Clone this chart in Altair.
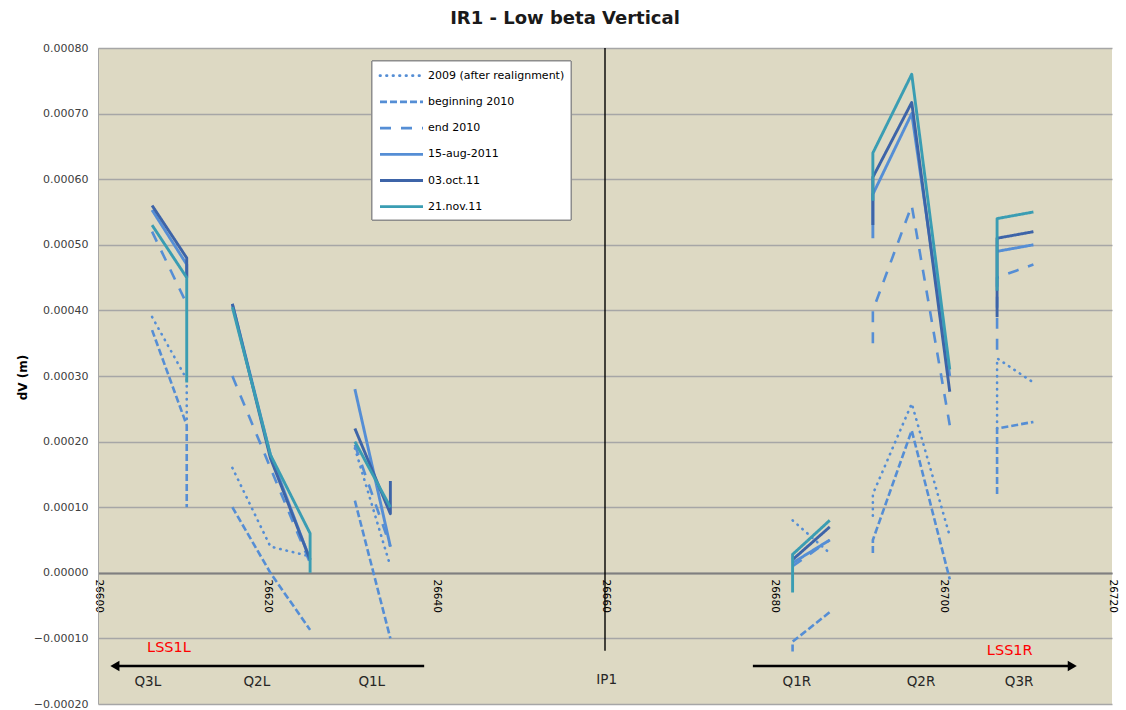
import altair as alt
import pandas as pd

# --- series definitions -------------------------------------------------
SERIES = ["2009 (after realignment)", "beginning 2010", "end 2010",
          "15-aug-2011", "03.oct.11", "21.nov.11"]
COLORS = ["#558ED5", "#558ED5", "#558ED5", "#558ED5", "#3D64A8", "#3A9DB3"]
DASHES = [[0.5, 6], [7, 3], [11, 10], [1, 0], [1, 0], [1, 0]]

# longitudinal positions (m) of the measured points on each magnet
Q3L = [26606.4, 26610.5]
Q2L = [26615.9, 26620.4, 26625.1]
Q1L = [26630.4, 26634.6]
Q1R = [26682.2, 26686.6]
Q2R = [26691.7, 26696.3, 26700.8]
Q3R = [26706.4, 26710.7]
POS = {"Q3L": Q3L, "Q2L": Q2L, "Q1L": Q1L, "Q1R": Q1R, "Q2R": Q2R, "Q3R": Q3R}

# vertical displacement dV (m): (point index on the magnet, value)
DV_2009 = {
    "Q3L": [(0, 0.000390), (1, 0.000295), (1, 0.000230)],
    "Q2L": [(0, 0.000160), (1, 0.000040), (2, 0.000025)],
    "Q1L": [(0, 0.000190), (1, 0.000010)],
    "Q1R": [(0, 0.000080), (1, 0.000030)],
    "Q2R": [(0, 0.000087), (0, 0.000120), (1, 0.000258), (2, 0.000056)],
    "Q3R": [(0, 0.000220), (0, 0.000327), (1, 0.000290)],
}
DV_BEGIN_2010 = {
    "Q3L": [(0, 0.000370), (1, 0.000225), (1, 0.000100)],
    "Q2L": [(0, 0.000100), (1, 0.000000), (2, -0.000087)],
    "Q1L": [(0, 0.000110), (1, -0.000100)],
    "Q1R": [(0, -0.000120), (0, -0.000105), (1, -0.000060)],
    "Q2R": [(0, 0.000030), (0, 0.000050), (1, 0.000217), (2, -0.000010)],
    "Q3R": [(0, 0.000120), (0, 0.000220), (1, 0.000230)],
}
DV_END_2010 = {
    "Q3L": [(0, 0.000520), (1, 0.000410)],
    "Q2L": [(0, 0.000300), (1, 0.000160), (2, 0.000015)],
    "Q1L": [(0, 0.000195), (1, 0.000040)],
    "Q1R": [(0, 0.000010), (1, 0.000050)],
    "Q2R": [(0, 0.000350), (0, 0.000400), (1, 0.000560), (2, 0.000225)],
    "Q3R": [(0, 0.000340), (0, 0.000450), (1, 0.000470)],
}
DV_AUG_2011 = {
    "Q3L": [(0, 0.000553), (1, 0.000470), (1, 0.000450)],
    "Q2L": [(0, 0.000410), (1, 0.000180), (2, 0.000020)],
    "Q1L": [(0, 0.000280), (1, 0.000040)],
    "Q1R": [(0, 0.000015), (1, 0.000050)],
    "Q2R": [(0, 0.000510), (0, 0.000577), (1, 0.000700), (2, 0.000300)],
    "Q3R": [(0, 0.000490), (1, 0.000500)],
}
DV_OCT_2011 = {
    "Q3L": [(0, 0.000560), (1, 0.000480), (1, 0.000450)],
    "Q2L": [(0, 0.000410), (1, 0.000175), (2, 0.000020)],
    "Q1L": [(0, 0.000220), (1, 0.000090), (1, 0.000140)],
    "Q1R": [(0, 0.000020), (1, 0.000070)],
    "Q2R": [(0, 0.000530), (0, 0.000603), (1, 0.000717), (2, 0.000276)],
    "Q3R": [(0, 0.000390), (0, 0.000510), (1, 0.000520)],
}
DV_NOV_2011 = {
    "Q3L": [(0, 0.000530), (1, 0.000450), (1, 0.000290)],
    "Q2L": [(0, 0.000405), (1, 0.000180), (2, 0.000060), (2, 0.000000)],
    "Q1L": [(0, 0.000200), (1, 0.000100)],
    "Q1R": [(0, -0.000030), (0, 0.000028), (1, 0.000080)],
    "Q2R": [(0, 0.000567), (0, 0.000640), (1, 0.000760), (2, 0.000310)],
    "Q3R": [(0, 0.000430), (0, 0.000540), (1, 0.000550)],
}
DATA = [DV_2009, DV_BEGIN_2010, DV_END_2010, DV_AUG_2011, DV_OCT_2011, DV_NOV_2011]

# annotation texts below the axis
MAGNETS = ["Q3L", "Q2L", "Q1L", "IP1", "Q1R", "Q2R", "Q3R"]
MAGNET_X = [26605.9, 26618.8, 26632.4, 26660.2, 26682.7, 26697.4, 26709.0]
MAGNET_Y = [-0.000166, -0.000166, -0.000166, -0.000163, -0.000166, -0.000166, -0.000166]
SECTORS = ["LSS1L", "LSS1R"]
SECTOR_X = [26608.4, 26707.9]
SECTOR_Y = [-0.000114, -0.000119]
ARROW_FROM = [26638.6, 26677.5]
ARROW_TO = [26602.0, 26715.3]
ARROW_Y = [-0.000142, -0.000142]
IP_X = 26660.0
IP_Y = [0.0008, -0.000119]

XTICKS = [26600, 26620, 26640, 26660, 26680, 26700, 26720]
YTICKS = [-0.0002, -0.0001, 0.0, 0.0001, 0.0002, 0.0003, 0.0004,
          0.0005, 0.0006, 0.0007, 0.0008]

# --- tables -----------------------------------------------------------------
rows = []
for name, segs in zip(SERIES, DATA):
    for mag, pts in segs.items():
        for k, (i, v) in enumerate(pts):
            rows.append({"series": name, "seg": mag, "order": k,
                         "x": POS[mag][i], "dv": v})
df = pd.DataFrame(rows)

labels_df = pd.DataFrame({"x": MAGNET_X, "dv": MAGNET_Y, "text": MAGNETS})
sectors_df = pd.DataFrame({"x": SECTOR_X, "dv": SECTOR_Y, "text": SECTORS})
arrows_df = pd.DataFrame({"x": ARROW_FROM, "x2": ARROW_TO, "dv": ARROW_Y,
                          "dir": ["left", "right"]})
ip_df = pd.DataFrame({"x": [IP_X], "dv": [IP_Y[0]], "dv2": [IP_Y[1]]})
legend_df = pd.DataFrame({"series": SERIES, "row": list(range(len(SERIES)))})

# --- scales & axes ----------------------------------------------------------
FONT = "DejaVu Sans"
x_scale = alt.Scale(domain=[26600, 26720], nice=False, zero=False)
y_scale = alt.Scale(domain=[-0.0002, 0.0008], nice=False, zero=False)
x_axis = alt.Axis(values=XTICKS, format="d", labelAngle=90, labelAlign="left",
                  labelBaseline="middle", labelPadding=6, ticks=False, grid=False,
                  domainColor="#7F7F7F", domainWidth=2, offset=-131,
                  labelFont=FONT, labelFontSize=10.5, labelColor="#000000")
y_axis = alt.Axis(values=YTICKS, format=".5f", ticks=False, grid=True,
                  gridColor="#A6A6A6", gridWidth=1.4, domainColor="#A6A6A6",
                  domainWidth=1, labelPadding=10, labelFont=FONT,
                  labelFontSize=11, labelColor="#404040",
                  title="dV (m)", titleFont=FONT, titleFontSize=12,
                  titleFontWeight="bold", titleColor="#000000",
                  titleX=-76, titleY=329, titleAngle=270, titleAlign="center",
                  titleBaseline="middle")

color = alt.Color("series:N", scale=alt.Scale(domain=SERIES, range=COLORS), legend=None)
dash = alt.StrokeDash("series:N", scale=alt.Scale(domain=SERIES, range=DASHES), legend=None)


def X(field="x"):
    return alt.X(f"{field}:Q", scale=x_scale, axis=x_axis, title=None)


def Y(field="dv"):
    return alt.Y(f"{field}:Q", scale=y_scale, axis=y_axis)


# --- data lines, one layer per series so later ones sit on top --------------
line_layers = []
for i, name in enumerate(SERIES):
    cap = "round" if i == 0 else "butt"
    width = 2.6 if i < 3 else 2.9
    line_layers.append(
        alt.Chart(df).transform_filter(alt.datum.series == name)
        .mark_line(strokeWidth=width, strokeCap=cap, strokeJoin="round")
        .encode(x=X(), y=Y(), color=color, strokeDash=dash,
                detail="seg:N", order="order:Q")
    )

ip_rule = alt.Chart(ip_df).mark_rule(color="#000000", strokeWidth=1.4).encode(
    x=X(), y=Y(), y2="dv2:Q")

arrow_lines = alt.Chart(arrows_df).mark_rule(color="#000000", strokeWidth=2.4).encode(
    x=X(), x2="x2:Q", y=Y())
head_left = alt.Chart(arrows_df).transform_filter(alt.datum.dir == "left").mark_point(
    shape="triangle-left", filled=True, size=110, color="#000000", opacity=1).encode(
    x=X("x2"), y=Y())
head_right = alt.Chart(arrows_df).transform_filter(alt.datum.dir == "right").mark_point(
    shape="triangle-right", filled=True, size=110, color="#000000", opacity=1).encode(
    x=X("x2"), y=Y())

magnet_text = alt.Chart(labels_df).mark_text(
    font=FONT, fontSize=13.5, color="#262626", baseline="middle").encode(
    x=X(), y=Y(), text="text:N")
sector_text = alt.Chart(sectors_df).mark_text(
    font=FONT, fontSize=14.5, color="#FF0000", baseline="middle").encode(
    x=X(), y=Y(), text="text:N")

main = alt.layer(*line_layers, ip_rule, arrow_lines, head_left, head_right,
                 magnet_text, sector_text)

# --- legend box -------------------------------------------------------------
leg_scale = alt.Scale(domain=[0, 5], range=[27.7, 158.7], nice=False, zero=False)
leg_box = alt.Chart(legend_df).mark_rect(
    fill="#FFFFFF", stroke="#8C8C8C", strokeWidth=1).encode(
    x=alt.value(274), x2=alt.value(473), y=alt.value(13), y2=alt.value(172))
leg_rules = []
for i, name in enumerate(SERIES):
    cap = "round" if i == 0 else "butt"
    leg_rules.append(
        alt.Chart(legend_df).transform_filter(alt.datum.series == name)
        .mark_rule(strokeWidth=2.8, strokeCap=cap)
        .encode(x=alt.value(282), x2=alt.value(325),
                y=alt.Y("row:Q", scale=leg_scale, axis=None),
                color=color, strokeDash=dash)
    )
leg_text = alt.Chart(legend_df).mark_text(
    align="left", baseline="middle", font=FONT, fontSize=11, color="#000000").encode(
    x=alt.value(330), y=alt.Y("row:Q", scale=leg_scale, axis=None), text="series:N")
legend = alt.layer(leg_box, *leg_rules, leg_text)

chart = (
    alt.layer(main, legend)
    .resolve_scale(y="independent")
    .properties(
        width=1014, height=656, autosize="none", background="#FFFFFF",
        padding={"left": 98, "top": 48, "right": 14, "bottom": 6},
        title=alt.TitleParams("IR1  - Low beta Vertical", font=FONT, fontSize=18,
                              fontWeight="bold", color="#1A1A1A", anchor="middle",
                              offset=14, dx=-40),
    )
    .configure_view(fill="#DDD9C3", strokeWidth=0)
)

chart.save("out.html", embed_options={"renderer": "svg", "actions": False})
